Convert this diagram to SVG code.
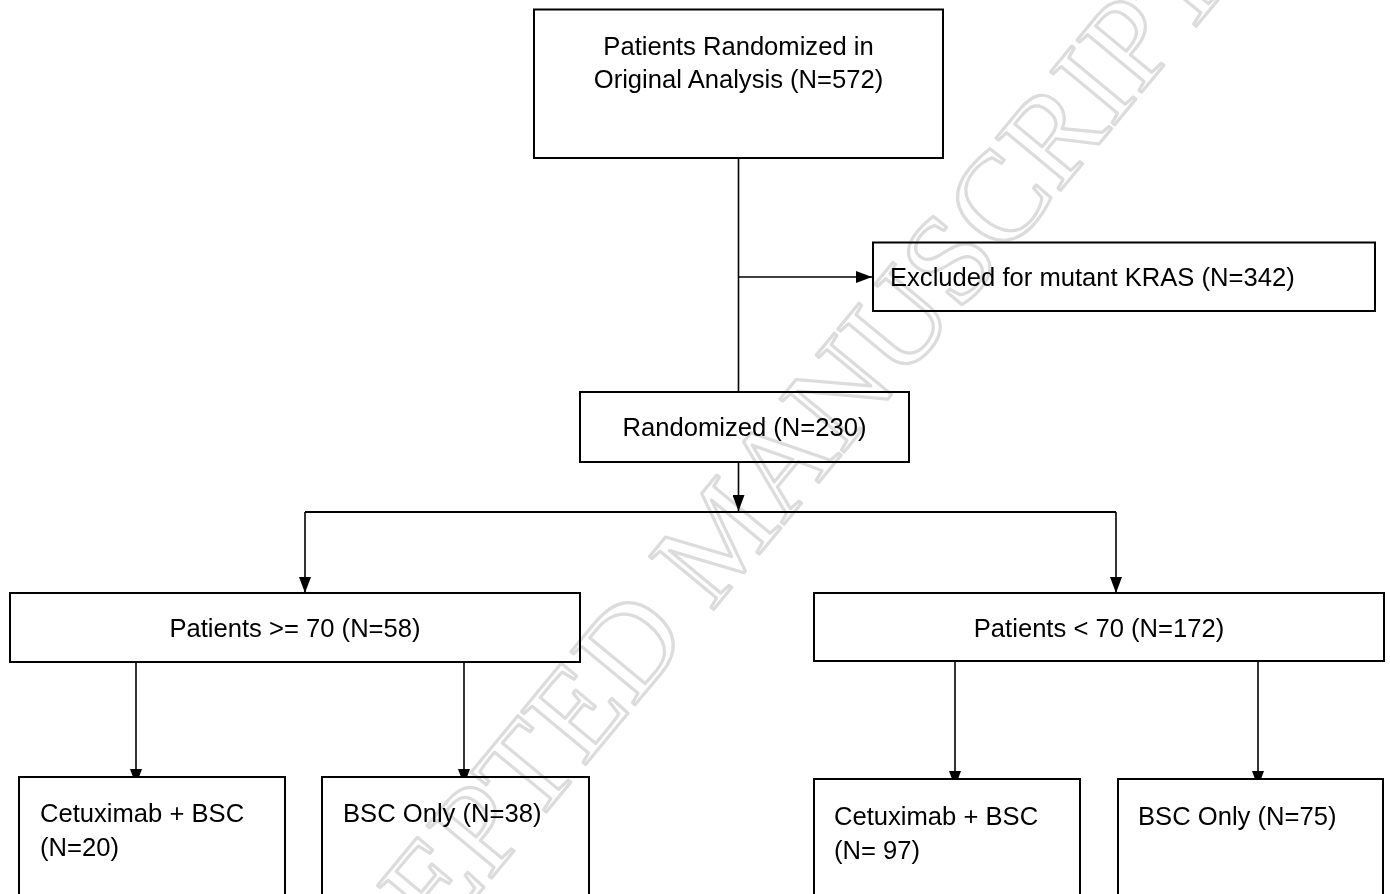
<svg xmlns="http://www.w3.org/2000/svg" width="1390" height="894" viewBox="0 0 1390 894">
  <style>
    .box { fill: #ffffff; stroke: #000000; stroke-width: 2; }
    .lbl { font-family: "Liberation Sans", Arial, sans-serif; font-size: 25.6px; fill: #000000; }
    .mid { text-anchor: middle; }
    .conn { fill: none; stroke: #000000; stroke-width: 1.6; }
    .bar { fill: none; stroke: #000000; stroke-width: 2; }
    .wm { font-family: "Liberation Serif", "Times New Roman", serif; font-size: 127px; fill: none; stroke: #dcdcdc; stroke-width: 3.2; stroke-linejoin: round; mix-blend-mode: multiply; }
  </style>
  <defs>
    <marker id="ah" viewBox="0 0 16 12" refX="16" refY="6" markerWidth="16" markerHeight="12" markerUnits="userSpaceOnUse" orient="auto">
      <path d="M0,0 L16,6 L0,12 z" fill="#000000"/>
    </marker>
  </defs>
  <rect x="0" y="0" width="1390" height="894" fill="#ffffff"/>

  <g id="connectors">
    <line class="conn" x1="738.5" y1="158" x2="738.5" y2="392"/>
    <line class="conn" x1="738.5" y1="277" x2="872" y2="277" marker-end="url(#ah)"/>
    <line class="conn" x1="738.5" y1="462" x2="738.5" y2="511" marker-end="url(#ah)"/>
    <line class="bar" x1="305" y1="512" x2="1116" y2="512"/>
    <line class="conn" x1="305" y1="512" x2="305" y2="593" marker-end="url(#ah)"/>
    <line class="conn" x1="1116" y1="512" x2="1116" y2="593" marker-end="url(#ah)"/>
    <line class="conn" x1="136" y1="662" x2="136" y2="785" marker-end="url(#ah)"/>
    <line class="conn" x1="464" y1="662" x2="464" y2="785" marker-end="url(#ah)"/>
    <line class="conn" x1="955" y1="661" x2="955" y2="787" marker-end="url(#ah)"/>
    <line class="conn" x1="1258" y1="661" x2="1258" y2="787" marker-end="url(#ah)"/>
  </g>

  <g id="node-original">
    <rect class="box" x="534" y="9.5" width="409" height="148.5"/>
    <text class="lbl mid" x="738.5" y="54.5">Patients Randomized in</text>
    <text class="lbl mid" x="738.5" y="87.5">Original Analysis (N=572)</text>
  </g>
  <g id="node-excluded">
    <rect class="box" x="873" y="242.5" width="502" height="68.5"/>
    <text class="lbl" x="890" y="286">Excluded for mutant KRAS (N=342)</text>
  </g>
  <g id="node-randomized">
    <rect class="box" x="580" y="392" width="329" height="70"/>
    <text class="lbl mid" x="744.5" y="436">Randomized (N=230)</text>
  </g>
  <g id="node-ge70">
    <rect class="box" x="10" y="593" width="570" height="69"/>
    <text class="lbl mid" x="295" y="637">Patients &gt;= 70 (N=58)</text>
  </g>
  <g id="node-lt70">
    <rect class="box" x="814" y="593" width="570" height="68"/>
    <text class="lbl mid" x="1099" y="637">Patients &lt; 70 (N=172)</text>
  </g>
  <g id="node-ge70-cetuximab">
    <rect class="box" x="19" y="777" width="266" height="130"/>
    <text class="lbl" x="40" y="822">Cetuximab + BSC</text>
    <text class="lbl" x="40" y="856">(N=20)</text>
  </g>
  <g id="node-ge70-bsc">
    <rect class="box" x="322" y="777" width="267" height="130"/>
    <text class="lbl" x="343" y="822">BSC Only (N=38)</text>
  </g>
  <g id="node-lt70-cetuximab">
    <rect class="box" x="814" y="779" width="266" height="130"/>
    <text class="lbl" x="834" y="825">Cetuximab + BSC</text>
    <text class="lbl" x="834" y="859">(N= 97)</text>
  </g>
  <g id="node-lt70-bsc">
    <rect class="box" x="1118" y="779" width="265" height="130"/>
    <text class="lbl" x="1138" y="825">BSC Only (N=75)</text>
  </g>

  <text class="wm" text-anchor="middle" transform="translate(753,562) rotate(-50.4)">ACCEPTED MANUSCRIPT</text>
</svg>
